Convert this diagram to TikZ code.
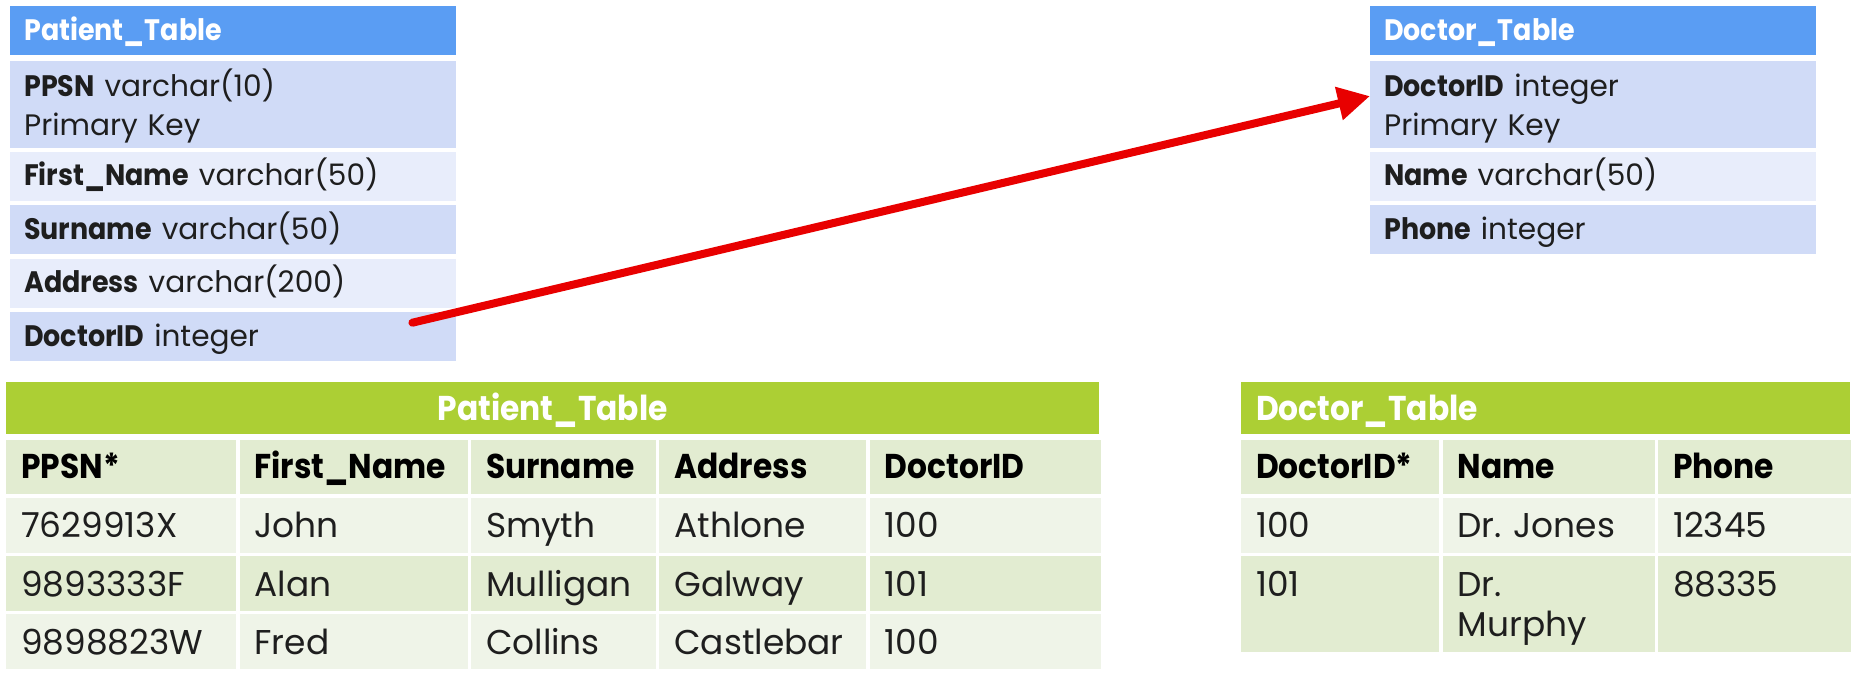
\documentclass[tikz,border=0pt]{standalone}
\usepackage{fontspec}
\setmainfont{Poppins}[BoldFeatures={FakeStretch=0.91}]
\usetikzlibrary{arrows.meta,positioning}

\definecolor{schemahead}{RGB}{90,157,243}
\definecolor{schemadark}{RGB}{208,219,247}
\definecolor{schemalight}{RGB}{232,237,251}
\definecolor{datahead}{RGB}{172,207,52}
\definecolor{datadark}{RGB}{226,236,209}
\definecolor{datalight}{RGB}{239,244,232}
\definecolor{linkred}{RGB}{232,0,0}
\definecolor{ink}{RGB}{30,30,30}

\begin{document}
\begin{tikzpicture}[x=1pt, y=1pt,
    every node/.style={anchor=north west, inner ysep=0pt, align=left, text=ink, font=\fontsize{34.4}{40}\selectfont},
    schema/.style={inner xsep=14pt, text width=418pt, font=\fontsize{29.6}{39}\selectfont},
    schemahd/.style={schema, fill=schemahead, text=white, font=\fontsize{29.6}{39}\selectfont\bfseries, text height=34pt, text depth=15pt},
    keyrow/.style={schema, fill=schemadark, text height=36pt, text depth=51pt},
    fieldrow/.style={schema, text height=34pt, text depth=15pt},
    datahd/.style={fill=datahead, text=white, inner xsep=15pt, font=\fontsize{34.4}{40}\selectfont\bfseries, text height=38pt, text depth=14pt},
    colhead/.style={fill=datadark, text=black, inner xsep=15pt, font=\fontsize{34.4}{40}\selectfont\bfseries, text height=38pt, text depth=16pt},
    cell/.style={inner xsep=15pt, text height=40pt, text depth=15pt}]
      \fill[white] (0,0) rectangle (1863,681);

      % Schemas
      \node[schemahd] (patient) at (10,675) {Patient\_Table};
      \node[keyrow, below=5pt of patient] (ppsn) {\textbf{PPSN} varchar(10)\\Primary Key};
      \node[fieldrow, fill=schemalight, below=4pt of ppsn] (firstname) {\textbf{First\_Name} varchar(50)};
      \node[fieldrow, fill=schemadark, below=4pt of firstname] (surname) {\textbf{Surname} varchar(50)};
      \node[fieldrow, fill=schemalight, below=4pt of surname] (address) {\textbf{Address} varchar(200)};
      \node[fieldrow, fill=schemadark, below=4pt of address] (doctorfk) {\textbf{DoctorID} integer};

      \node[schemahd] (doctor) at (1370,675) {Doctor\_Table};
      \node[keyrow, below=5pt of doctor] (doctorid) {\textbf{DoctorID} integer\\Primary Key};
      \node[fieldrow, fill=schemalight, below=4pt of doctorid] (name) {\textbf{Name} varchar(50)};
      \node[fieldrow, fill=schemadark, below=4pt of name] (phone) {\textbf{Phone} integer};

      % Patient data
      \node[datahd, text width=1063pt, align=center] (ptitle) at (6,299) {Patient\_Table};
      \node[colhead, text width=200pt] (pa0) at (6,241) {PPSN*};
      \node[colhead, text width=198pt, right=3pt of pa0] (pb0) {First\_Name};
      \node[colhead, text width=155pt, right=3pt of pb0] (pc0) {Surname};
      \node[colhead, text width=177pt, right=3pt of pc0] (pd0) {Address};
      \node[colhead, text width=201pt, right=3pt of pd0] (pe0) {DoctorID};

      \node[cell, fill=datalight, text width=200pt, below=3pt of pa0] (pa1) {7629913X};
      \node[cell, fill=datalight, text width=198pt, right=3pt of pa1] (pb1) {John};
      \node[cell, fill=datalight, text width=155pt, right=3pt of pb1] (pc1) {Smyth};
      \node[cell, fill=datalight, text width=177pt, right=3pt of pc1] (pd1) {Athlone};
      \node[cell, fill=datalight, text width=201pt, right=3pt of pd1] (pe1) {100};

      \node[cell, fill=datadark, text width=200pt, below=3pt of pa1] (pa2) {9893333F};
      \node[cell, fill=datadark, text width=198pt, right=3pt of pa2] (pb2) {Alan};
      \node[cell, fill=datadark, text width=155pt, right=3pt of pb2] (pc2) {Mulligan};
      \node[cell, fill=datadark, text width=177pt, right=3pt of pc2] (pd2) {Galway};
      \node[cell, fill=datadark, text width=201pt, right=3pt of pd2] (pe2) {101};

      \node[cell, fill=datalight, text width=200pt, below=3pt of pa2] (pa3) {9898823W};
      \node[cell, fill=datalight, text width=198pt, right=3pt of pa3] (pb3) {Fred};
      \node[cell, fill=datalight, text width=155pt, right=3pt of pb3] (pc3) {Collins};
      \node[cell, fill=datalight, text width=177pt, right=3pt of pc3] (pd3) {Castlebar};
      \node[cell, fill=datalight, text width=201pt, right=3pt of pd3] (pe3) {100};

      % Doctor data
      \node[datahd, text width=579pt] (dtitle) at (1241,299) {Doctor\_Table};
      \node[colhead, text width=168pt] (da0) at (1241,241) {DoctorID*};
      \node[colhead, text width=182pt, right=3pt of da0] (db0) {Name};
      \node[colhead, text width=163pt, right=3pt of db0] (dc0) {Phone};

      \node[cell, fill=datalight, text width=168pt, below=3pt of da0] (da1) {100};
      \node[cell, fill=datalight, text width=182pt, right=3pt of da1] (db1) {Dr.\ Jones};
      \node[cell, fill=datalight, text width=163pt, right=3pt of db1] (dc1) {12345};

      \node[cell, fill=datadark, text depth=56pt, text width=168pt, below=3pt of da1] (da2) {101};
      \node[cell, fill=datadark, text depth=56pt, text width=182pt, right=3pt of da2] (db2) {Dr.\\Murphy};
      \node[cell, fill=datadark, text depth=56pt, text width=163pt, right=3pt of db2] (dc2) {88335};

      % Edges
      \coordinate (fk) at ([xshift=-44pt,yshift=14pt]doctorfk.east);
      \draw[linkred, line width=8pt, line cap=round, -{Triangle[length=32pt,width=32pt]}] (fk) -- ([yshift=8pt]doctorid.west);
    \end{tikzpicture}
\end{document}
